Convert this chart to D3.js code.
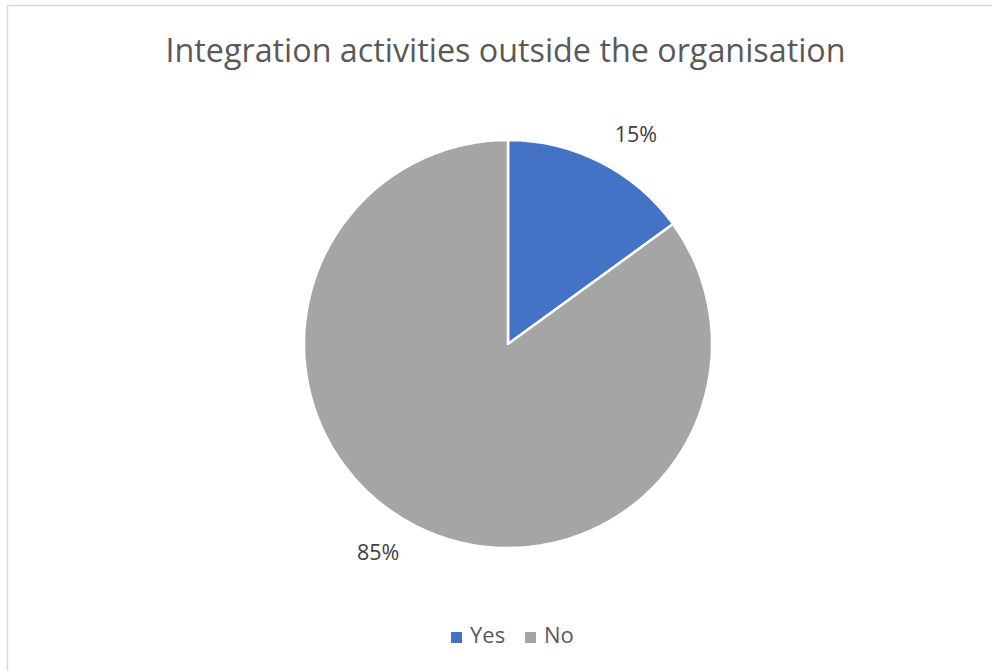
<!DOCTYPE html>
<html>
<head>
<meta charset="utf-8">
<script src="https://cdn.jsdelivr.net/npm/d3@7"></script>
<style>
  html, body { margin: 0; padding: 0; background: #fff; }
  svg { display: block; }
</style>
</head>
<body>
<svg id="chart" width="992" height="671"></svg>
<script>
// Survey answers: integration activities held outside the organisation
const categories = ["Yes", "No"];
const values = [15, 85];
const labels = ["15%", "85%"];
const colors = ["#4472C4", "#A5A5A5"];

const svg = d3.select("#chart");
const W = 992, H = 671;
const font = "'Open Sans', 'Noto Sans', sans-serif";

// chart area border
svg.append("rect")
  .attr("x", 7.5).attr("y", 5.5)
  .attr("width", W + 10).attr("height", H + 10)
  .attr("fill", "#fff")
  .attr("stroke", "#D9D9D9")
  .attr("stroke-width", 1.5);

// title
svg.append("text")
  .attr("x", 505.5).attr("y", 62)
  .attr("text-anchor", "middle")
  .attr("font-family", font)
  .attr("font-size", 32.3)
  .attr("fill", "#595959")
  .text("Integration activities outside the organisation");

const cx = 508, cy = 344, r = 204;
const data = categories.map((c, i) => ({ cat: c, value: values[i], label: labels[i], color: colors[i] }));

const pie = d3.pie().value(d => d.value).sort(null);
const arc = d3.arc().innerRadius(0).outerRadius(r);
const arcs = pie(data);

const g = svg.append("g").attr("transform", `translate(${cx},${cy})`);
g.selectAll("path")
  .data(arcs)
  .enter().append("path")
  .attr("d", arc)
  .attr("fill", d => d.data.color)
  .attr("stroke", "#fff")
  .attr("stroke-width", 2.5)
  .attr("stroke-linejoin", "round");

// data labels outside the slices
const labelArc = d3.arc().innerRadius(r * 1.1).outerRadius(r * 1.1);
const labelOffsets = [[26, -2], [-28, 16]];
g.selectAll("text.lbl")
  .data(arcs)
  .enter().append("text")
  .attr("class", "lbl")
  .attr("transform", (d, i) => {
    const [x, y] = labelArc.centroid(d);
    return `translate(${x + labelOffsets[i][0]},${y + labelOffsets[i][1]})`;
  })
  .attr("text-anchor", "middle")
  .attr("font-family", font)
  .attr("font-size", 21.5)
  .attr("fill", "#404040")
  .text(d => d.data.label);

// legend
const legend = svg.append("g").attr("transform", "translate(451,643)");
const items = legend.selectAll("g")
  .data(data)
  .enter().append("g")
  .attr("transform", (d, i) => `translate(${i * 74},0)`);
items.append("rect")
  .attr("x", 0).attr("y", -11)
  .attr("width", 11).attr("height", 11)
  .attr("fill", d => d.color);
items.append("text")
  .attr("x", 19).attr("y", 0)
  .attr("font-family", font)
  .attr("font-size", 22)
  .attr("fill", "#595959")
  .text(d => d.cat);
</script>
</body>
</html>
